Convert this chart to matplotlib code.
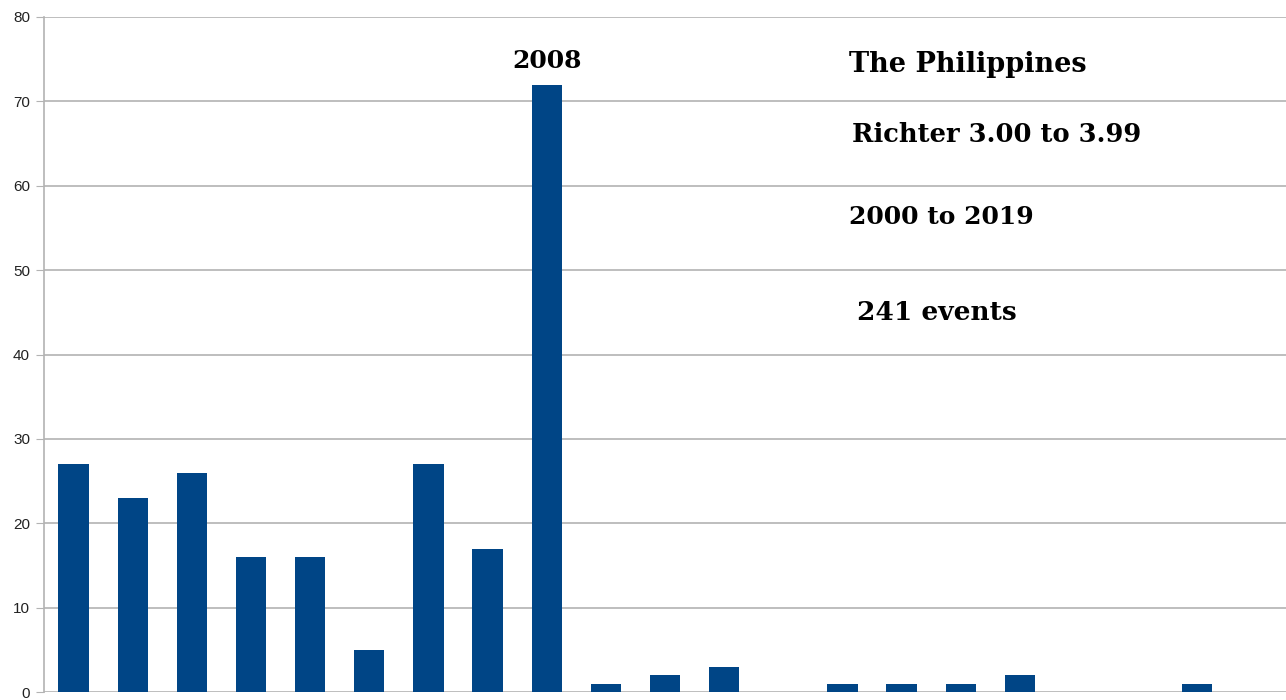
import numpy as np
import matplotlib.pyplot as plt

# eventos por año, Filipinas, Richter 3.00-3.99
anios = list(range(2000, 2020))
eventos = [27, 23, 26, 16, 16, 5, 27, 17, 72, 1, 2, 3, 0, 1, 1, 1, 2, 0, 0, 1]
ticks_y = [0, 10, 20, 30, 40, 50, 60, 70, 80]
textos = ['The Philippines', 'Richter 3.00 to 3.99', '2000 to 2019', '241 events']

azul = '#004586'
gris = '#b3b3b3'

fig = plt.figure(figsize=(12.86, 7), dpi=100)
ax = fig.add_axes([44/1286, 8/700, 1 - 44/1286, 675/700])

x = np.arange(len(anios))
ax.bar(x, eventos, width=0.51, color=azul, zorder=3)

ax.set_xlim(-0.5, 20.5)
ax.set_ylim(0, 80)
ax.set_yticks(ticks_y)
ax.set_xticks([])
ax.yaxis.grid(True, color=gris, linewidth=1.2, zorder=0)
ax.tick_params(axis='y', length=6, color=gris, labelsize=11, labelcolor='#222222', pad=4)
for lab in ax.get_yticklabels():
    lab.set_family('Liberation Sans')
for s in ['top', 'right', 'bottom']:
    ax.spines[s].set_visible(False)
ax.spines['left'].set_color(gris)
ax.spines['left'].set_linewidth(1.2)

# etiqueta del año máximo
imax = int(np.argmax(eventos))
ax.text(x[imax], eventos[imax] + 1.4, str(anios[imax]), ha='center', va='bottom',
        fontsize=18, fontweight='bold', family='DejaVu Serif')

# textos a la derecha
posiciones = [(849, 65), (852, 135), (849, 217), (857, 313)]
tamanos = [19.5, 18.5, 18, 19]
for t, (px, py), fs in zip(textos, posiciones, tamanos):
    fig.text(px/1286, 1 - py/700, t, ha='left', va='center', fontsize=fs,
             fontweight='bold', family='DejaVu Serif')

fig.savefig('out.png', dpi=100)
